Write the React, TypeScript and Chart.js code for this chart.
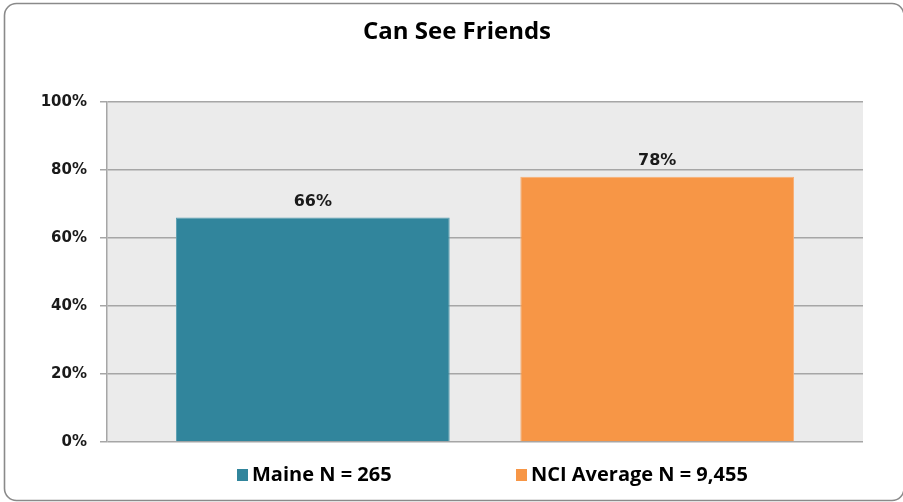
import React, { useEffect, useRef } from "react";
import { Chart, registerables } from "chart.js";

Chart.register(...registerables);

const chartTitle = "Can See Friends";
const categories = [""];
const seriesNames = ["Maine N = 265", "NCI Average N = 9,455"];
const maineValues = [66];
const nciValues = [78];
const seriesColors = ["#31859C", "#F79646"];
const seriesBorders = ["#5a9fb2", "#f9ae74"];
const yTicks = [0, 20, 40, 60, 80, 100];

const decorPlugin = {
  id: "decor",
  beforeDraw(chart: any) {
    const { ctx, chartArea } = chart;
    ctx.save();
    ctx.fillStyle = "#ffffff";
    ctx.fillRect(0, 0, chart.width, chart.height);
    // outer rounded border
    ctx.strokeStyle = "#8a8a8a";
    ctx.lineWidth = 1.6;
    ctx.beginPath();
    (ctx as any).roundRect(4.5, 3.5, 899.5, 497, 12);
    ctx.stroke();
    // plot background
    ctx.fillStyle = "#EBEBEB";
    ctx.fillRect(chartArea.left, chartArea.top, chartArea.right - chartArea.left, chartArea.bottom - chartArea.top);
    ctx.restore();
  },
  afterDraw(chart: any) {
    const { ctx } = chart;
    ctx.save();
    // title
    ctx.fillStyle = "#000000";
    ctx.font = "bold 24px 'Open Sans', sans-serif";
    ctx.textAlign = "center";
    ctx.textBaseline = "middle";
    ctx.fillText(chartTitle, 457, 32);
    // data labels
    ctx.font = "bold 16px 'DejaVu Sans', sans-serif";
    ctx.textBaseline = "alphabetic";
    chart.data.datasets.forEach((ds: any, i: number) => {
      const meta = chart.getDatasetMeta(i);
      meta.data.forEach((bar: any, j: number) => {
        const v = ds.data[j];
        if (v == null) return;
        ctx.fillStyle = "#1a1a1a";
        ctx.fillText(v + "%", bar.x, bar.y - 12);
      });
    });
    // legend
    const legendY = 475;
    const xs = [237, 516];
    ctx.font = "bold 20px 'Open Sans', sans-serif";
    ctx.textAlign = "left";
    ctx.textBaseline = "middle";
    chart.data.datasets.forEach((ds: any, i: number) => {
      ctx.fillStyle = seriesColors[i];
      ctx.fillRect(xs[i], legendY - 6, 11, 12);
      ctx.fillStyle = "#000000";
      ctx.fillText(ds.label, xs[i] + 15, legendY);
    });
    ctx.restore();
  },
};

export default function App() {
  const ref = useRef<HTMLCanvasElement>(null);
  useEffect(() => {
    if (!ref.current) return;
    const chart = new Chart(ref.current, {
      type: "bar",
      data: {
        labels: categories,
        datasets: [
          {
            label: seriesNames[0],
            data: maineValues,
            backgroundColor: seriesColors[0],
            borderColor: seriesBorders[0],
            borderWidth: 1,
            categoryPercentage: 0.911,
            barPercentage: 0.795,
          },
          {
            label: seriesNames[1],
            data: nciValues,
            backgroundColor: seriesColors[1],
            borderColor: seriesBorders[1],
            borderWidth: 1,
            categoryPercentage: 0.911,
            barPercentage: 0.795,
          },
        ],
      },
      options: {
        responsive: false,
        animation: false,
        devicePixelRatio: 1,
        layout: { padding: { top: 102, bottom: 60, right: 40, left: 0 } },
        plugins: {
          legend: { display: false },
          title: { display: false },
          tooltip: { enabled: false },
        },
        scales: {
          x: {
            display: false,
          },
          y: {
            min: 0,
            max: 100,
            afterFit(scale: any) {
              scale.width = 107;
            },
            afterBuildTicks(scale: any) {
              scale.ticks = yTicks.map((v) => ({ value: v }));
            },
            ticks: {
              padding: 13,
              color: "#1a1a1a",
              font: { family: "'DejaVu Sans', sans-serif", size: 15, weight: "bold" },
              callback: (v: any) => v + "%",
            },
            grid: {
              color: "#A6A6A6",
              lineWidth: 1.5,
              tickLength: 7,
              drawTicks: true,
            },
            border: { display: true, color: "#A6A6A6", width: 1.5 },
          },
        },
      },
      plugins: [decorPlugin],
    });
    return () => chart.destroy();
  }, []);
  return (
    <div style={{ position: "fixed", left: 0, top: 0, width: 903, height: 502 }}>
      <canvas ref={ref} width={903} height={502} style={{ display: "block" }} />
    </div>
  );
}
